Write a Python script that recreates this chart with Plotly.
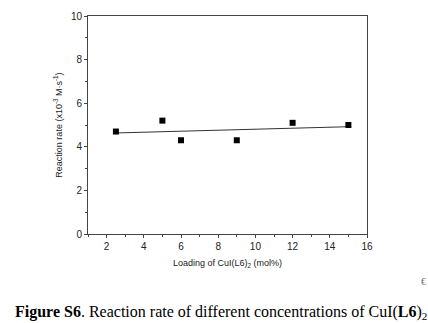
import numpy as np
import plotly.graph_objects as go

loading = [2.5, 5, 6, 9, 12, 15]
rate = [4.7, 5.2, 4.3, 4.3, 5.1, 5.0]
x_ticks = [2, 4, 6, 8, 10, 12, 14, 16]
y_ticks = [0, 2, 4, 6, 8, 10]

slope, intercept = np.polyfit(loading, rate, 1)
fit_x = [min(loading), max(loading)]
fit_y = [slope * v + intercept for v in fit_x]

fig = go.Figure()
fig.add_trace(go.Scatter(x=fit_x, y=fit_y, mode="lines",
                         line=dict(color="#333333", width=1), showlegend=False))
fig.add_trace(go.Scatter(x=loading, y=rate, mode="markers",
                         marker=dict(symbol="square", size=6, color="black"),
                         showlegend=False))

axis_common = dict(showgrid=False, zeroline=False, showline=True, linecolor="#444444",
                   linewidth=1, mirror=True, ticks="outside", ticklen=3, tickwidth=1,
                   tickcolor="#444444", tickfont=dict(family="Liberation Sans, Arial", size=10, color="#222222"))

fig.update_xaxes(range=[1, 16], tickvals=x_ticks,
                 minor=dict(ticks="outside", ticklen=2, tickcolor="#444444", dtick=1, tick0=1),
                 title=dict(text="Loading of CuI(L6)<sub>2</sub> (mol%)",
                            font=dict(family="Liberation Sans, Arial", size=9, color="#222222"),
                            standoff=8),
                 **axis_common)
fig.update_yaxes(range=[0, 10], tickvals=y_ticks,
                 minor=dict(ticks="outside", ticklen=2, tickcolor="#444444", dtick=1, tick0=1),
                 title=dict(text="Reaction rate (x10<sup>-3</sup> M·s<sup>-1</sup>)",
                            font=dict(family="Liberation Sans, Arial", size=9, color="#222222"),
                            standoff=6),
                 **axis_common)

fig.add_annotation(xref="paper", yref="paper", x=-0.27, y=-0.36, xanchor="left", yanchor="middle",
                   text="<b>Figure S6</b>. Reaction rate of different concentrations of CuI(<b>L6</b>)<sub>2</sub>",
                   showarrow=False,
                   font=dict(family="Liberation Serif, Times New Roman", size=16, color="black"))
fig.add_annotation(xref="paper", yref="paper", x=1.204, y=-0.219, xanchor="center", yanchor="middle",
                   text="€", showarrow=False,
                   font=dict(family="Liberation Serif", size=10, color="#777777"))

fig.update_layout(width=428, height=323, margin=dict(l=88, r=61, t=10, b=89),
                  paper_bgcolor="white", plot_bgcolor="white")
fig.write_html("out.html")
